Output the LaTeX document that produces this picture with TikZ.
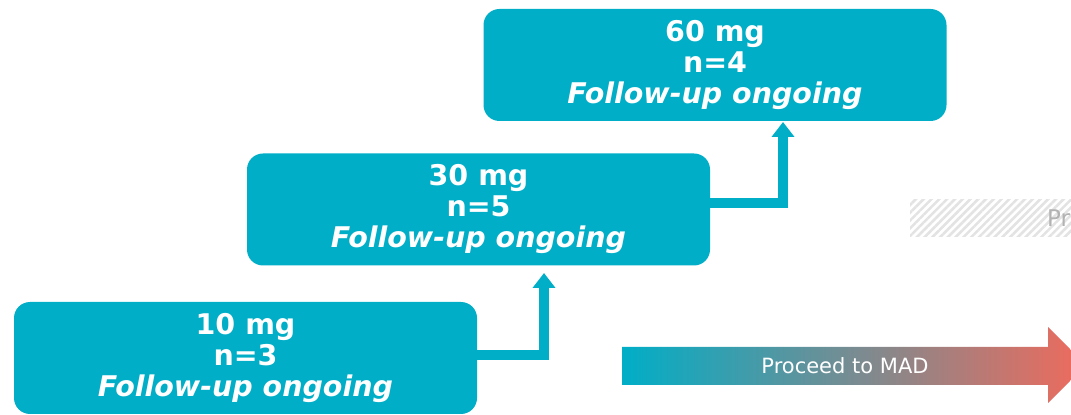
\documentclass[tikz,border=0pt]{standalone}
\usepackage{fontspec}
\setmainfont{DejaVu Sans}
\usetikzlibrary{arrows.meta,patterns.meta}
\definecolor{dosecyan}{RGB}{0,174,199}
\definecolor{madred}{RGB}{240,106,92}
\definecolor{madmid}{RGB}{180,140,160}
\tikzset{
  dose/.style={fill=dosecyan,rounded corners=16pt,minimum width=463pt,minimum height=112pt,
    text=white,align=center,font=\fontsize{28.5}{31}\selectfont\bfseries,inner sep=0pt},
  link/.style={draw=dosecyan,line width=10pt,-{Triangle[width=22pt,length=15pt]}}
}
\begin{document}
\begin{tikzpicture}[x=1pt,y=1pt]
  \useasboundingbox (0,0) rectangle (1071,415);
  \clip (0,0) rectangle (1071,415);
  \node[dose] (b10) at (245.5,57) {10 mg\\n=3\\\itshape Follow-up ongoing};
  \node[dose] (b30) at (478.5,205.5) {30 mg\\n=5\\\itshape Follow-up ongoing};
  \node[dose] (b60) at (715,350) {60 mg\\n=4\\\itshape Follow-up ongoing};
  \coordinate (t30) at (544,142);
  \coordinate (t60) at (783,293);
  \begin{scope}[link]
    \draw ([yshift=3pt]b10.east) -| (t30);
    \draw ([yshift=6pt]b30.east) -| (t60);
  \end{scope}
  % arrow to MAD
  \shade[left color=dosecyan,middle color=madmid,right color=madred]
    (622,30) -- (1048,30) -- (1048,12) -- (1086,50) -- (1048,88) -- (1048,68) -- (622,68) -- cycle;
  \node[text=white,font=\fontsize{21}{24}\selectfont] (mad) at (845,49) {Proceed to MAD};
  % hatched bar
  \fill[pattern={Lines[angle=45,distance=5.5pt,line width=2.6pt]},pattern color=black!11]
    (910,178) rectangle (1071,215);
  \node[anchor=base west,text=black!30,font=\fontsize{23}{26}\selectfont,inner sep=0pt] (pr) at (1047,188) {Pr};
\end{tikzpicture}
\end{document}
